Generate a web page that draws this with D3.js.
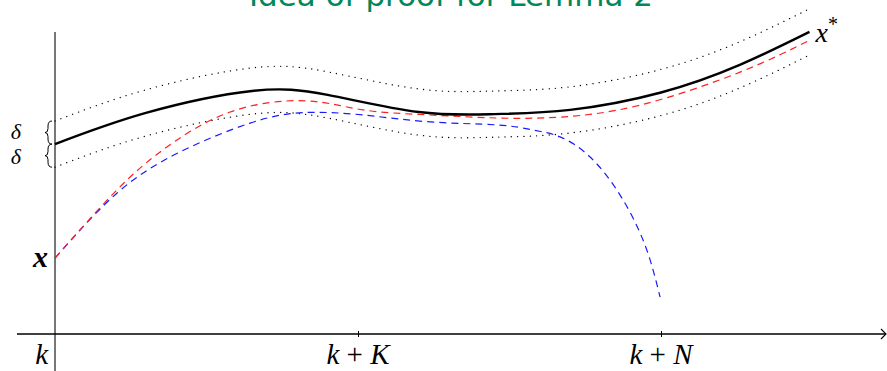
<!DOCTYPE html>
<html>
<head>
<meta charset="utf-8">
<script src="https://cdn.jsdelivr.net/npm/d3@7"></script>
<style>
  html, body { margin: 0; padding: 0; background: #fff; }
  svg { display: block; }
  .math { font-family: "Liberation Serif", "DejaVu Serif", serif; font-style: italic; fill: #000; }
  .up { font-style: normal; }
</style>
</head>
<body>
<svg id="chart" width="887" height="371"></svg>
<script>
// Reference trajectory x*(t) on the time axis (t measured from k)
const refT = [0, 3, 6.5, 9, 12, 14.5, 17, 20, 22.6, 24.9];
const refY = [6.33, 7.37, 8.1, 7.97, 7.4, 7.33, 7.47, 8.05, 8.97, 10.07];

// Closed-loop trajectory starting at x (red, stays in the tube)
const redT = [0, 1.82, 3.47, 5.78, 8.3, 10.17, 12.38, 14.59, 16.67, 19.31, 22.61, 24.92];
const redY = [2.53, 4.57, 6.07, 7.4, 7.77, 7.47, 7.3, 7.2, 7.23, 7.63, 8.73, 9.8];

// Open-loop prediction over the horizon N (blue, leaves the tube after k+K)
const blueT = [0, 2.05, 4.13, 6.44, 8.2, 10.17, 12.38, 14.59, 15.78, 16.67, 17.66, 18.65, 19.47, 19.97];
const blueY = [2.53, 4.7, 6.07, 7.03, 7.38, 7.3, 7.07, 6.97, 6.8, 6.57, 5.9, 4.63, 2.97, 1.23];

// Tube half-width
const delta = 0.77;

// Time axis ticks
const tickValues = [10, 20];
const tickLabels = [["k", " + ", "K"], ["k", " + ", "N"]];

const title = "Idea of proof for Lemma 2";

const svg = d3.select("#chart");

const x = d3.scaleLinear().domain([0, 10]).range([55, 358]);
const y = d3.scaleLinear().domain([0, 10]).range([334, 34]);

const line = (ts, ys, dy = 0) => d3.line()
  .x((d, i) => x(ts[i]))
  .y((d, i) => y(ys[i] + dy))
  .curve(d3.curveNatural)(ts);

// Title (partly above the drawing area)
svg.append("text")
  .attr("x", 451).attr("y", 6)
  .attr("text-anchor", "middle")
  .attr("font-family", "DejaVu Sans, sans-serif")
  .attr("font-size", 31)
  .attr("fill", "#00875a")
  .text(title);

// Axes
svg.append("line")
  .attr("x1", x(0)).attr("x2", x(0))
  .attr("y1", 32).attr("y2", 371)
  .attr("stroke", "#555").attr("stroke-width", 1.6);

const xAxis = d3.axisBottom(x).tickValues(tickValues).tickSize(6).tickFormat("");
const gx = svg.append("g").attr("transform", `translate(0,${y(0) - 3})`).call(xAxis);
gx.select(".domain").remove();
gx.selectAll(".tick line").attr("stroke", "#000").attr("stroke-width", 1);

svg.append("line")
  .attr("x1", 17).attr("x2", 886)
  .attr("y1", y(0)).attr("y2", y(0))
  .attr("stroke", "#000").attr("stroke-width", 1.3);
svg.append("path")
  .attr("d", `M881,${y(0) - 5} L886,${y(0)} L881,${y(0) + 5}`)
  .attr("fill", "none").attr("stroke", "#000").attr("stroke-width", 1.1);

// Tick labels
tickValues.forEach((v, i) => {
  const t = svg.append("text").attr("class", "math")
    .attr("x", x(v)).attr("y", 364)
    .attr("text-anchor", "middle").attr("font-size", 29);
  t.append("tspan").text(tickLabels[i][0]);
  t.append("tspan").attr("class", "up").text(tickLabels[i][1]);
  t.append("tspan").text(tickLabels[i][2]);
});
svg.append("text").attr("class", "math")
  .attr("x", 48).attr("y", 364).attr("text-anchor", "end")
  .attr("font-size", 29).text("k");

// Tube around the reference
[delta, -delta].forEach(dy => {
  svg.append("path")
    .attr("d", line(refT, refY, dy))
    .attr("fill", "none").attr("stroke", "#000")
    .attr("stroke-width", 1.3).attr("stroke-linecap", "round")
    .attr("stroke-dasharray", "0.1,6.2");
});

// Predicted (blue) and closed-loop (red) trajectories
svg.append("path")
  .attr("d", line(blueT, blueY))
  .attr("fill", "none").attr("stroke", "#1a1aff")
  .attr("stroke-width", 1.2).attr("stroke-dasharray", "7,5");
svg.append("path")
  .attr("d", line(redT, redY))
  .attr("fill", "none").attr("stroke", "#ff2020")
  .attr("stroke-width", 1.2).attr("stroke-dasharray", "7,5");

// Reference trajectory
svg.append("path")
  .attr("d", line(refT, refY))
  .attr("fill", "none").attr("stroke", "#000").attr("stroke-width", 2.4);

// Braces marking the tube width at t = k
const brace = (yTop, yBot) => {
  const xr = x(0) - 3, xl = x(0) - 10, mid = (yTop + yBot) / 2;
  const p = d3.path();
  p.moveTo(xr, yTop);
  p.quadraticCurveTo(xl + 3, yTop, xl + 3, yTop + 5);
  p.lineTo(xl + 3, mid - 4);
  p.quadraticCurveTo(xl + 3, mid, xl, mid);
  p.quadraticCurveTo(xl + 3, mid, xl + 3, mid + 4);
  p.lineTo(xl + 3, yBot - 5);
  p.quadraticCurveTo(xl + 3, yBot, xr, yBot);
  return p.toString();
};
const yRef0 = y(refY[0]);
const braceSpans = [[y(refY[0] + delta), yRef0], [yRef0, y(refY[0] - delta)]];
braceSpans.forEach(([a, b]) => {
  svg.append("path").attr("d", brace(a, b))
    .attr("fill", "none").attr("stroke", "#000").attr("stroke-width", 1);
});
braceSpans.forEach(([a, b], i) => {
  svg.append("text").attr("class", "math")
    .attr("x", 21).attr("y", (a + b) / 2 + 7 + (i === 0 ? -1 : 1))
    .attr("text-anchor", "end").attr("font-size", 22).text("δ");
});

// Point labels
svg.append("text").attr("class", "math")
  .attr("x", 48).attr("y", y(redY[0]) + 9)
  .attr("text-anchor", "end").attr("font-size", 30)
  .attr("font-weight", "bold").text("x");
const xs = svg.append("text").attr("class", "math")
  .attr("x", x(refT[refT.length - 1]) + 6).attr("y", y(refY[refY.length - 1]) + 10)
  .attr("font-size", 28);
xs.append("tspan").text("x");
xs.append("tspan").attr("class", "up").attr("dy", -11).attr("font-size", 20).text("*");
</script>
</body>
</html>
